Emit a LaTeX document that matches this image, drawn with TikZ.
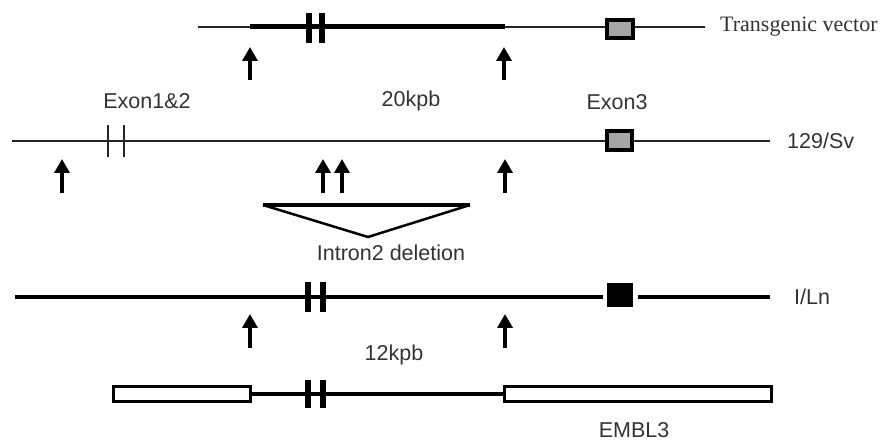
\documentclass[tikz,border=0pt]{standalone}
\usepackage{fontspec}
\setmainfont{Liberation Sans}
\newfontfamily\seriffont{Liberation Serif}
\usetikzlibrary{arrows.meta}
\begin{document}
\begin{tikzpicture}[x=1pt,y=-1pt,
  thinline/.style={line width=2pt,black!85},
  thickline/.style={line width=5pt},
  midline/.style={line width=4pt},
  emblline/.style={line width=3.5pt},
  boldbar/.style={line width=5.5pt},
  finebar/.style={line width=2pt,black!85},
  exonbox/.style={line width=4.5pt,fill=black!35},
  vecbox/.style={line width=3.5pt,fill=white},
  site/.style={line width=4.5pt,-{Triangle[width=15pt 0,length=14pt 0]}},
  lab/.style={font=\fontsize{21.5}{24}\selectfont,text=black!80,inner sep=0pt},
  serlab/.style={font=\seriffont\fontsize{22}{24}\selectfont,text=black!80,inner sep=0pt}
]
\useasboundingbox (0,0) rectangle (889,443);

% ---------- Row 1: transgenic vector ----------
\coordinate (v0) at (198,27); \coordinate (v1) at (705,27);
\coordinate (va) at (250,27); \coordinate (vb) at (505,27);
\draw[thinline] (v0) -- (v1);
\draw[thickline] (va) -- (vb);
\draw[boldbar] (309,13) -- (309,43);
\draw[boldbar] (322,13) -- (322,43);
\node[draw,exonbox,minimum width=26pt,minimum height=18pt,inner sep=0pt] (vex3) at (620,29) {};
\node[serlab,anchor=west] (tv) at (720,27) {Transgenic vector};
\coordinate (a1b) at (250,80); \coordinate (a1t) at (250,47);
\coordinate (a2b) at (504,80); \coordinate (a2t) at (504,47);
\draw[site] (a1b) -- (a1t);
\draw[site] (a2b) -- (a2t);

% ---------- labels between rows ----------
\node[lab] (ex12) at (147,101) {Exon1\&2};
\node[lab] (k20) at (411,101) {20kpb};
\node[lab] (ex3) at (617,102) {Exon3};

% ---------- Row 2: 129/Sv ----------
\coordinate (s0) at (12,141); \coordinate (s1) at (770,141);
\draw[thinline] (s0) -- (s1);
\draw[finebar] (108,125) -- (108,157);
\draw[finebar] (124,125) -- (124,157);
\node[draw,exonbox,minimum width=25pt,minimum height=19pt,inner sep=0pt] (sex3) at (619.5,140.5) {};
\node[lab,anchor=west] (sv) at (787,141) {129/Sv};
\coordinate (b1b) at (62,193); \coordinate (b1t) at (62,159);
\coordinate (b2b) at (323,193); \coordinate (b2t) at (323,159);
\coordinate (b3b) at (342,193); \coordinate (b3t) at (342,159);
\coordinate (b4b) at (505,193); \coordinate (b4t) at (505,159);
\draw[site] (b1b) -- (b1t);
\draw[site] (b2b) -- (b2t);
\draw[site] (b3b) -- (b3t);
\draw[site] (b4b) -- (b4t);

% ---------- deletion triangle ----------
\coordinate (tl) at (263,205); \coordinate (tr) at (470,205); \coordinate (tp) at (368,237);
\draw[line width=2.5pt,line join=miter] (tl) -- (tp) -- (tr);
\draw[line width=4.5pt] (tl) -- (tr);
\node[lab] (del) at (391,253) {Intron2 deletion};

% ---------- Row 3: I/Ln ----------
\coordinate (l0) at (15,297); \coordinate (l1) at (603,297);
\coordinate (l2) at (638,297); \coordinate (l3) at (770,297);
\draw[midline] (l0) -- (l1);
\draw[midline] (l2) -- (l3);
\draw[boldbar] (308,282) -- (308,312);
\draw[boldbar] (323,282) -- (323,312);
\node[fill=black,minimum width=26pt,minimum height=24pt,inner sep=0pt] (lex3) at (620,295) {};
\node[lab,anchor=west] (iln) at (794,297) {I/Ln};
\coordinate (c1b) at (250,348); \coordinate (c1t) at (250,314);
\coordinate (c2b) at (505,348); \coordinate (c2t) at (505,314);
\draw[site] (c1b) -- (c1t);
\draw[site] (c2b) -- (c2t);
\node[lab] (k12) at (394,355) {12kpb};

% ---------- Row 4: EMBL3 ----------
\node[draw,vecbox,minimum width=137pt,minimum height=15pt,inner sep=0pt] (armL) at (182,394) {};
\node[draw,vecbox,minimum width=267pt,minimum height=15pt,inner sep=0pt] (armR) at (638,394) {};
\draw[emblline] (armL.east) -- (armR.west);
\draw[boldbar] (308,380) -- (308,408);
\draw[boldbar] (323,380) -- (323,408);
\node[lab] (embl) at (634,430) {EMBL3};
\end{tikzpicture}
\end{document}
